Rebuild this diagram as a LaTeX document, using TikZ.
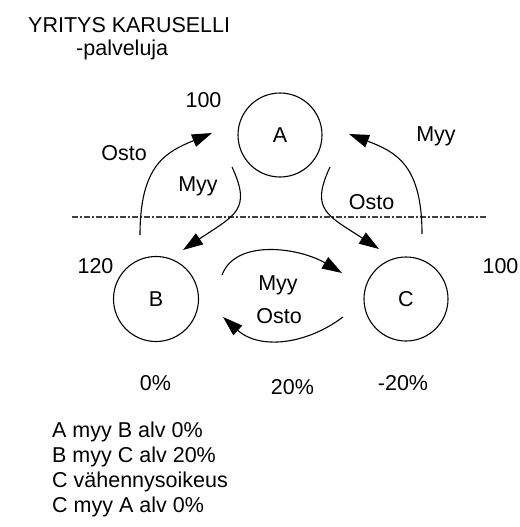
\documentclass[tikz,border=0pt]{standalone}
\usepackage{fontspec}
\setmainfont{Liberation Sans}
\usetikzlibrary{arrows.meta}

\begin{document}
\begin{tikzpicture}[x=1pt, y=-1pt,
    firm/.style={circle, draw, line width=1.1pt, minimum size=84pt, inner sep=0pt},
    txt/.style={font=\fontsize{21.5}{25}\selectfont, inner sep=0pt},
    flow/.style={line width=1.1pt, -{Triangle[length=20pt,width=13pt]}},
    cutline/.style={line width=1.1pt, black!75, dash pattern=on 6pt off 2pt on 2pt off 2pt}]
  \useasboundingbox (0, 0) rectangle (519, 527);

  % otsikko
  \node[txt, anchor=base west] (title) at (28, 33) {YRITYS KARUSELLI};
  \node[txt, anchor=base west] (subtitle) at (76, 56) {-palveluja};

  % yritykset
  \node[firm, txt] (A) at (280, 135) {A};
  \node[firm, txt, minimum size=85pt] (B) at (156, 299) {B};
  \node[firm, txt] (C) at (406, 299) {C};
  \node[txt, anchor=base] (sumA) at (203.5, 107) {100};
  \node[txt, anchor=base] (sumB) at (95.5, 273) {120};
  \node[txt, anchor=base] (sumC) at (500.5, 273) {100};

  % raja
  \coordinate (cutL) at (72, 217);
  \coordinate (cutR) at (487, 217);
  \draw[cutline] (cutL) -- (cutR);

  % B -> A
  \coordinate (ba0) at (140, 235);
  \coordinate (ba1) at (212, 133);
  \draw[flow] (ba0) .. controls (140, 165) and (166, 152) .. (ba1);
  \node[txt, anchor=base] (ostoB) at (124, 160) {Osto};

  % A -> B
  \coordinate (ab0) at (232, 167);
  \coordinate (ab1) at (183, 250);
  \draw[flow] (ab0) .. controls (252, 210) and (235, 215) .. (ab1);
  \node[txt, anchor=base] (myyA) at (198, 191) {Myy};

  % A -> C
  \coordinate (ac0) at (330, 167);
  \coordinate (ac1) at (379, 249);
  \draw[flow] (ac0) .. controls (310, 210) and (327, 215) .. (ac1);
  \node[txt, anchor=base] (ostoC) at (371.5, 209) {Osto};

  % C -> A
  \coordinate (ca0) at (422, 234);
  \coordinate (ca1) at (349, 134);
  \draw[flow] (ca0) .. controls (422, 165) and (396, 152) .. (ca1);
  \node[txt, anchor=base] (myyC) at (436, 141) {Myy};

  % B -> C ja C -> B
  \coordinate (bc0) at (222, 275);
  \coordinate (bc1) at (342, 273);
  \draw[flow] (bc0) .. controls (236, 238) and (300, 248) .. (bc1);
  \coordinate (cb0) at (343, 317);
  \coordinate (cb1) at (223, 317);
  \draw[flow] (cb0) .. controls (304.6, 345.8) and (258.5, 349.2) .. (cb1);
  \node[txt, anchor=base] (myyB) at (278, 290) {Myy};
  \node[txt, anchor=base] (ostoBC) at (279, 323) {Osto};

  % alv
  \node[txt, anchor=base] (alvB) at (155.5, 390) {0\%};
  \node[txt, anchor=base] (alvBC) at (292.5, 394) {20\%};
  \node[txt, anchor=base] (alvC) at (403, 390) {-20\%};

  % selitys
  \node[txt, anchor=base west] (rule1) at (52, 437) {A myy B alv 0\%};
  \node[txt, anchor=base west] (rule2) at (52, 462) {B myy C alv 20\%};
  \node[txt, anchor=base west] (rule3) at (52, 487) {C vähennysoikeus};
  \node[txt, anchor=base west] (rule4) at (52, 512) {C myy A alv 0\%};
\end{tikzpicture}
\end{document}
